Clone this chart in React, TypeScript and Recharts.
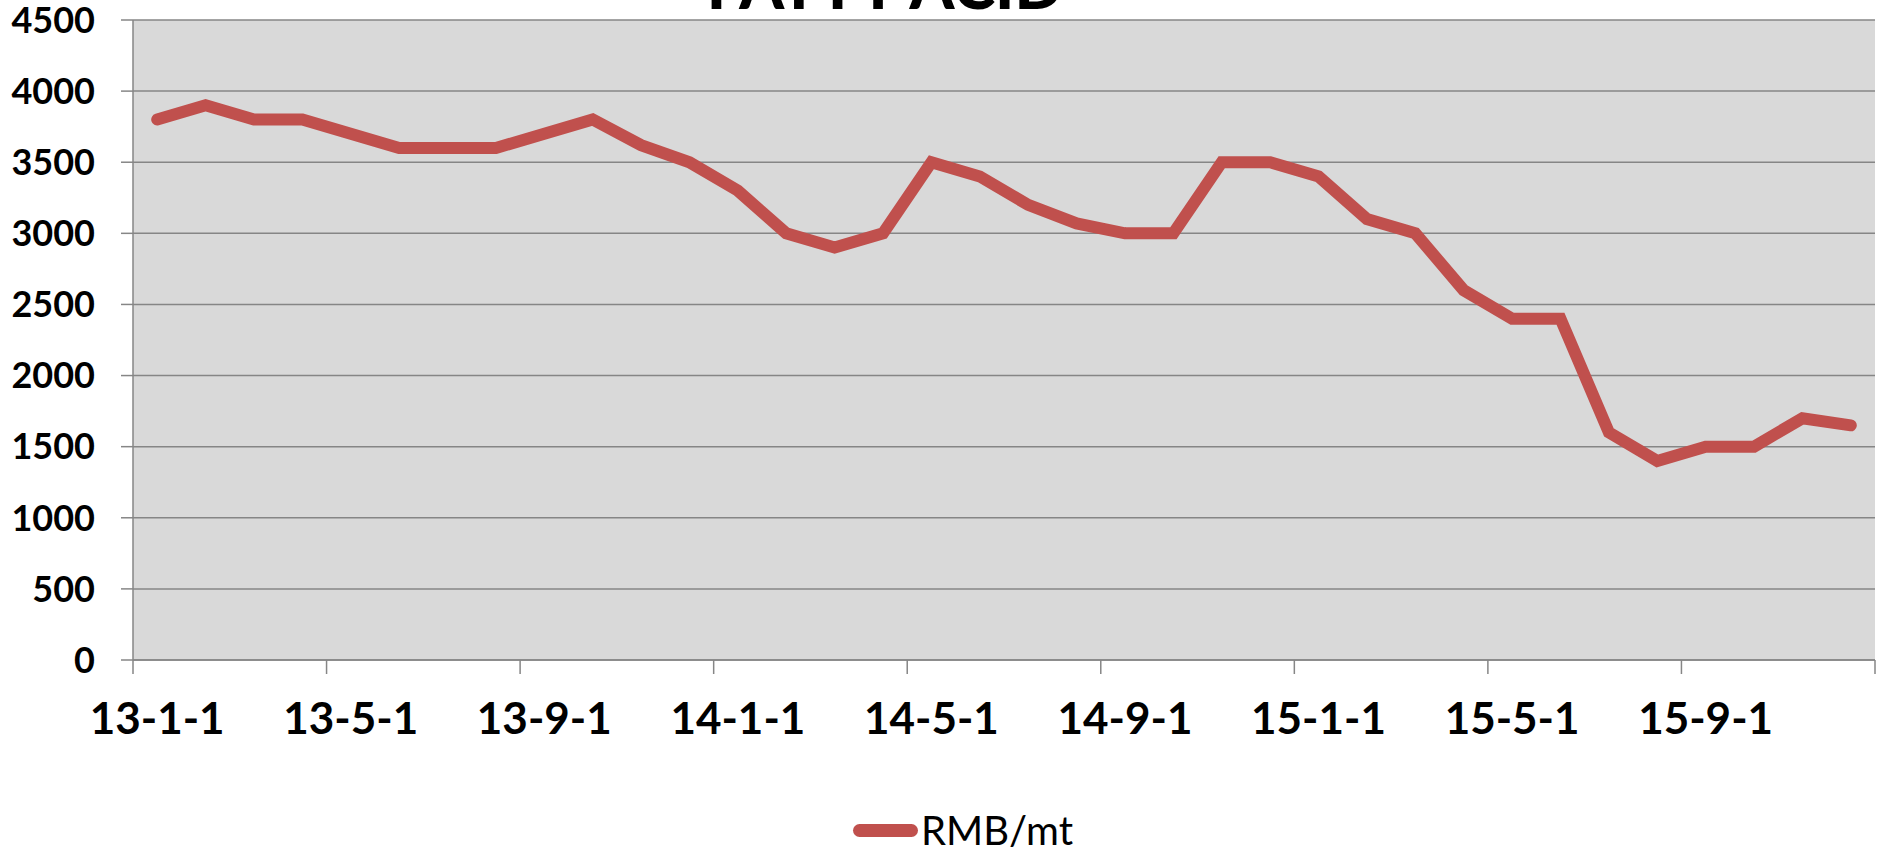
import React from 'react';
import { LineChart, Line, XAxis, YAxis, CartesianGrid } from 'recharts';

// monthly prices, RMB/mt, Jan 2013 - Dec 2015
const months = [
  '13-1', '13-2', '13-3', '13-4', '13-5', '13-6', '13-7', '13-8', '13-9', '13-10', '13-11', '13-12',
  '14-1', '14-2', '14-3', '14-4', '14-5', '14-6', '14-7', '14-8', '14-9', '14-10', '14-11', '14-12',
  '15-1', '15-2', '15-3', '15-4', '15-5', '15-6', '15-7', '15-8', '15-9', '15-10', '15-11', '15-12',
];
const prices = [
  3800, 3900, 3800, 3800, 3700, 3600, 3600, 3600, 3700, 3800, 3620, 3500,
  3300, 3000, 2900, 3000, 3500, 3400, 3200, 3070, 3000, 3000, 3500, 3500,
  3400, 3100, 3000, 2600, 2400, 2400, 1600, 1400, 1500, 1500, 1700, 1650,
];
const tickLabels = ['13-1-1', '13-5-1', '13-9-1', '14-1-1', '14-5-1', '14-9-1', '15-1-1', '15-5-1', '15-9-1'];
const tickMonths = [0, 4, 8, 12, 16, 20, 24, 28, 32, 36];
const yTicks = [0, 500, 1000, 1500, 2000, 2500, 3000, 3500, 4000, 4500];

// each month sits in the middle of its slot, like an Excel date axis
const data = months.map((m, i) => ({ month: m, x: i + 0.5, price: prices[i] }));

const W = 1878;
const H = 854;
const AXIS_W = 133;
const RIGHT = 3;
const halfMonth = (W - RIGHT - AXIS_W) / months.length / 2;

const gridColor = '#868686';
const lineColor = '#C0504D';

const MonthTick = (props: any) => {
  const { x, y, payload } = props;
  const label = tickLabels[tickMonths.indexOf(payload.value)];
  return (
    <g>
      <line x1={x} y1={y} x2={x} y2={y + 14} stroke={gridColor} strokeWidth={1.5} />
      {label && (
        <text
          x={x + halfMonth}
          y={y + 57}
          textAnchor="middle"
          dominantBaseline="central"
          fontFamily="Lato"
          fontWeight={700}
          fontSize={44}
          fill="#000"
        >
          {label}
        </text>
      )}
    </g>
  );
};

export default function App() {
  return (
    <div style={{ position: 'absolute', left: 0, top: 0, width: W, height: H, background: '#fff' }}>
      <LineChart width={W} height={H} data={data} margin={{ top: 20, right: RIGHT, bottom: 0, left: 0 }}>
        <CartesianGrid vertical={false} stroke={gridColor} strokeWidth={1.5} fill="#D9D9D9" />
        <XAxis
          type="number"
          dataKey="x"
          domain={[0, months.length]}
          ticks={tickMonths}
          interval={0}
          height={194}
          tickSize={0}
          tickMargin={0}
          tickLine={false}
          axisLine={{ stroke: gridColor, strokeWidth: 1.5 }}
          tick={<MonthTick />}
        />
        <YAxis
          width={AXIS_W}
          domain={[0, 4500]}
          ticks={yTicks}
          interval={0}
          tickSize={12}
          tickMargin={26}
          axisLine={{ stroke: gridColor, strokeWidth: 1.5 }}
          tickLine={{ stroke: gridColor, strokeWidth: 1.5 }}
          tick={{ fontFamily: 'Lato', fontWeight: 700, fontSize: 36, fill: '#000' }}
        />
        <Line
          type="linear"
          dataKey="price"
          name="RMB/mt"
          stroke={lineColor}
          strokeWidth={12}
          strokeLinecap="round"
          dot={false}
          isAnimationActive={false}
        />
      </LineChart>
      {/* title sits mostly above the frame, only its lower part shows */}
      <svg width={W} height={40} style={{ position: 'absolute', left: 0, top: 0 }}>
        <text x={885} y={9} textAnchor="middle" fontFamily="Lato" fontWeight={900} fontSize={64} fill="#000">
          FATTY ACID
        </text>
      </svg>
      <div
        style={{
          position: 'absolute',
          left: 853,
          top: 810,
          display: 'flex',
          alignItems: 'center',
          fontFamily: 'Lato',
          fontSize: 40,
          lineHeight: '40px',
          color: '#000',
        }}
      >
        <span style={{ display: 'inline-block', width: 65, height: 13, borderRadius: 7, background: lineColor, marginRight: 3 }} />
        <span>RMB/mt</span>
      </div>
    </div>
  );
}
